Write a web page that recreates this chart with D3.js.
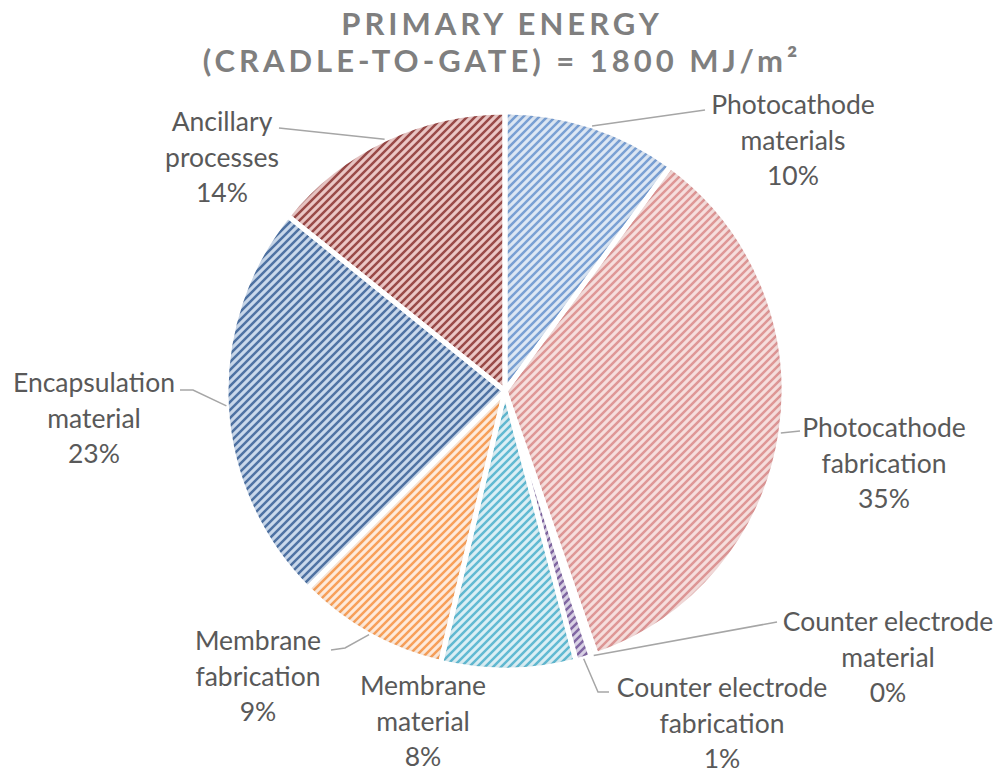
<!DOCTYPE html>
<html>
<head>
<meta charset="utf-8">
<script src="https://cdn.jsdelivr.net/npm/d3@7/dist/d3.min.js"></script>
<style>
  html, body { margin: 0; padding: 0; background: #fff; }
  svg { display: block; }
</style>
</head>
<body>
<svg id="chart" width="1000" height="773"></svg>
<script>
// Primary energy breakdown (cradle-to-gate), share of total in percent
const categories = [
  "Photocathode materials",
  "Photocathode fabrication",
  "Counter electrode material",
  "Counter electrode fabrication",
  "Membrane material",
  "Membrane fabrication",
  "Encapsulation material",
  "Ancillary processes"
];
const shares = [10.1, 34.6, 0.3, 0.9, 7.8, 8.8, 23.3, 14.2];

// Label text broken into lines (percentage line appended from the value)
const labelLines = [
  ["Photocathode", "materials"],
  ["Photocathode", "fabrication"],
  ["Counter electrode", "material"],
  ["Counter electrode", "fabrication"],
  ["Membrane", "material"],
  ["Membrane", "fabrication"],
  ["Encapsulation", "material"],
  ["Ancillary", "processes"]
];

// Hatch colours: [stripe, background]
const stripeColors = ["#7aa0d4", "#df9796", "#9bbb59", "#8369a6", "#62bad3", "#f8a05a", "#4f73a4", "#9a4b49"];
const backColors   = ["#dde7f4", "#f6dedd", "#e6eed6", "#ddd5e8", "#dbeff5", "#feeadb", "#cad9ec", "#ebc7c6"];

const titleLines = ["PRIMARY ENERGY", "(CRADLE-TO-GATE) = 1800 MJ/m²"];

// Label placement: text block centre and leader path end points
const labelLayout = [
  { x: 793, y: 105, leader: [[705, 110]] },
  { x: 884, y: 428, leader: [[800, 431]] },
  { x: 888, y: 622, leader: [[777, 622]] },
  { x: 722, y: 688, leader: [[598, 692], [609, 692]] },
  { x: 423, y: 686, leader: null },
  { x: 258, y: 641, leader: [[345, 648], [331, 650]] },
  { x: 94,  y: 383, leader: [[193, 390], [180, 390]] },
  { x: 222, y: 122, leader: [[279, 128]] }
];

const W = 1000, H = 773;
const cx = 505, cy = 391, R = 279;
const lineGap = 35.5;
const textColor = "#595959";
const font = "Lato, 'Open Sans', sans-serif";

const svg = d3.select("#chart");
const defs = svg.append("defs");

// Diagonal hatch pattern for each slice
categories.forEach((c, i) => {
  const p = defs.append("pattern")
    .attr("id", "hatch" + i)
    .attr("patternUnits", "userSpaceOnUse")
    .attr("width", 8).attr("height", 8);
  p.append("rect").attr("width", 8).attr("height", 8).attr("fill", backColors[i]);
  p.append("path")
    .attr("d", "M-2,2 L2,-2 M0,8 L8,0 M6,10 L10,6")
    .attr("stroke", stripeColors[i])
    .attr("stroke-width", 2.5)
    .attr("stroke-linecap", "square");
});

// Soft inner shading along slice edges
const f = defs.append("filter").attr("id", "innerShade")
  .attr("x", "-10%").attr("y", "-10%").attr("width", "120%").attr("height", "120%");
f.append("feFlood").attr("flood-color", "#000").attr("flood-opacity", 0.3).attr("result", "flood");
f.append("feComposite").attr("in", "flood").attr("in2", "SourceAlpha").attr("operator", "out").attr("result", "outside");
f.append("feGaussianBlur").attr("in", "outside").attr("stdDeviation", 4).attr("result", "blurred");
f.append("feComposite").attr("in", "blurred").attr("in2", "SourceAlpha").attr("operator", "in").attr("result", "shade");
const fm = f.append("feMerge");
fm.append("feMergeNode").attr("in", "SourceGraphic");
fm.append("feMergeNode").attr("in", "shade");

const data = categories.map((c, i) => ({ name: c, value: shares[i], i }));
const pie = d3.pie().value(d => d.value).sort(null);
const arcs = pie(data);
const arc = d3.arc().innerRadius(0).outerRadius(R);

const g = svg.append("g").attr("transform", `translate(${cx},${cy})`);

g.selectAll("path.slice")
  .data(arcs)
  .join("path")
  .attr("class", "slice")
  .attr("d", arc)
  .attr("fill", d => `url(#hatch${d.data.i})`)
  .attr("filter", "url(#innerShade)");

// White separators between slices
g.selectAll("path.sep")
  .data(arcs)
  .join("path")
  .attr("class", "sep")
  .attr("d", arc)
  .attr("fill", "none")
  .attr("stroke", "#fff")
  .attr("stroke-width", 5)
  .attr("stroke-linejoin", "round");

// Leader lines from the slice rim (mid-angle) to the labels
const line = d3.line();
arcs.forEach((a, k) => {
  const lay = labelLayout[k];
  if (!lay.leader) return;
  const mid = (a.startAngle + a.endAngle) / 2;
  const start = [cx + R * Math.sin(mid), cy - R * Math.cos(mid)];
  svg.append("path")
    .attr("d", line([start, ...lay.leader]))
    .attr("fill", "none")
    .attr("stroke", "#a6a6a6")
    .attr("stroke-width", 1.5);
});

// Data labels
arcs.forEach((a, k) => {
  const lay = labelLayout[k];
  const lines = labelLines[k].concat([d3.format(".0f")(a.data.value) + "%"]);
  const t = svg.append("text")
    .attr("text-anchor", "middle")
    .attr("font-family", font)
    .attr("font-size", 26.5)
    .attr("fill", textColor);
  lines.forEach((s, j) => {
    t.append("tspan")
      .attr("x", lay.x)
      .attr("y", lay.y + j * lineGap)
      .attr("dy", "0.35em")
      .text(s);
  });
});

// Title, two lines
titleLines.forEach((s, j) => {
  svg.append("text")
    .attr("x", 502)
    .attr("y", 35 + j * 37)
    .attr("text-anchor", "middle")
    .attr("font-family", font)
    .attr("font-weight", "bold")
    .attr("font-size", 31)
    .attr("letter-spacing", 4)
    .attr("fill", "#7f7f7f")
    .text(s);
});
</script>
</body>
</html>
